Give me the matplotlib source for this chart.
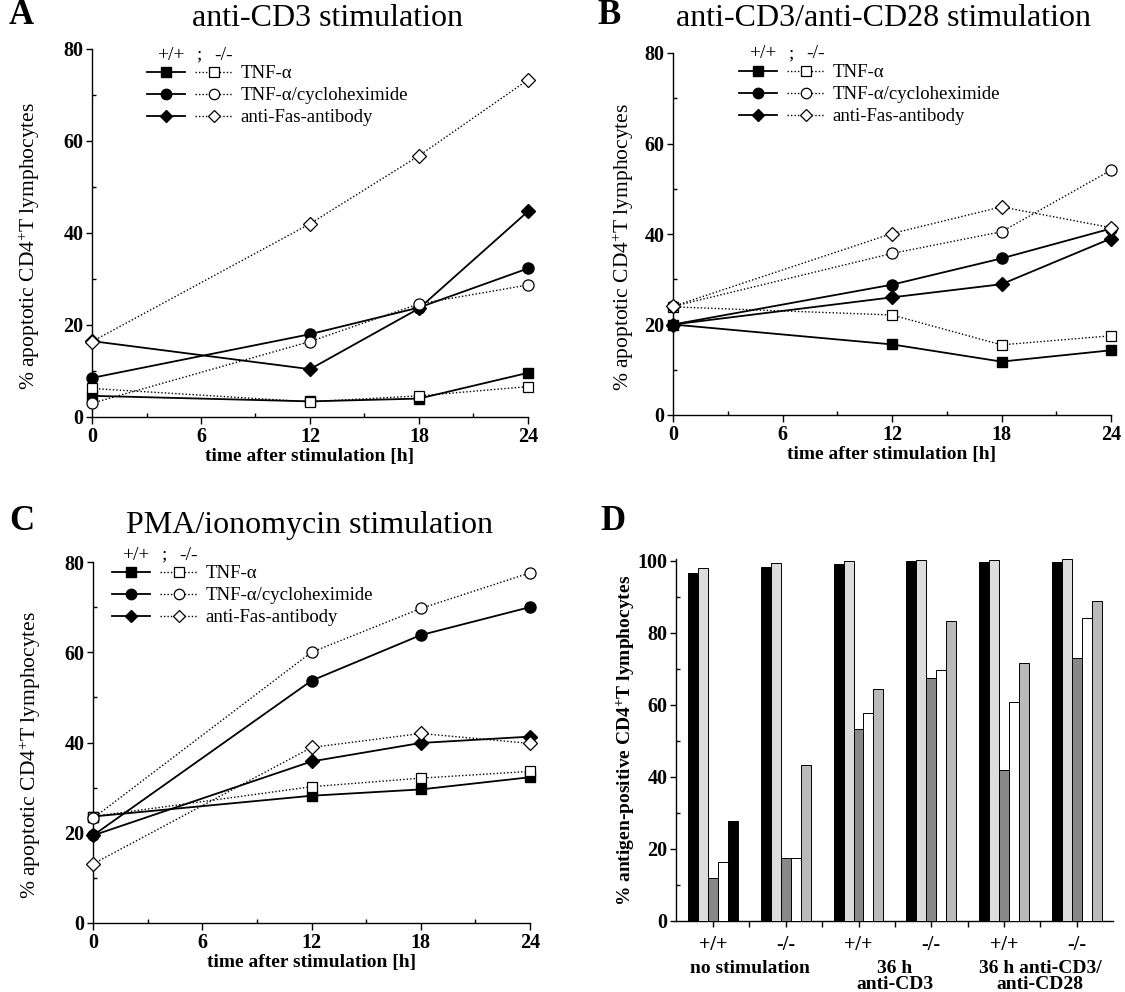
import matplotlib
matplotlib.use("Agg")
import matplotlib.pyplot as plt
from matplotlib.lines import Line2D
from matplotlib.legend_handler import HandlerTuple
from matplotlib.ticker import MultipleLocator, FixedLocator
import matplotlib.transforms as mtransforms
import numpy as np

plt.rcParams['font.family'] = ['Liberation Serif', 'DejaVu Serif']
plt.rcParams['mathtext.fontset'] = 'custom'
plt.rcParams['mathtext.rm'] = 'Liberation Serif'
plt.rcParams['mathtext.bf'] = 'Liberation Serif:bold'
plt.rcParams['mathtext.it'] = 'Liberation Serif:italic'

# ---------------- data ----------------
hours = [0, 12, 18, 24]
series_labels = ['TNF-α', 'TNF-α/cycloheximide', 'anti-Fas-antibody']

# Panel A: anti-CD3 stimulation
A_tnf_wt = [4.6, 3.4, 4.0, 9.6]
A_tnf_ko = [6.2, 3.3, 4.6, 6.6]
A_chx_wt = [8.5, 18.0, 23.8, 32.3]
A_chx_ko = [3.0, 16.4, 24.6, 28.7]
A_fas_wt = [16.5, 10.4, 23.6, 44.7]
A_fas_ko = [16.4, 42.0, 56.8, 73.3]

# Panel B: anti-CD3/anti-CD28 stimulation
B_tnf_wt = [20.0, 15.6, 11.8, 14.3]
B_tnf_ko = [23.9, 22.1, 15.5, 17.5]
B_chx_wt = [20.0, 28.8, 34.6, 41.2]
B_chx_ko = [24.0, 35.7, 40.5, 54.1]
B_fas_wt = [20.0, 26.0, 28.9, 39.0]
B_fas_ko = [24.0, 40.1, 46.0, 41.4]

# Panel C: PMA/ionomycin stimulation
C_tnf_wt = [23.6, 28.2, 29.6, 32.3]
C_tnf_ko = [23.6, 30.2, 32.1, 33.6]
C_chx_wt = [19.4, 53.7, 63.8, 70.0]
C_chx_ko = [23.2, 60.0, 69.7, 77.6]
C_fas_wt = [19.4, 35.8, 39.9, 41.3]
C_fas_ko = [13.1, 38.9, 42.0, 39.8]

# Panel D: antigen-positive CD4+ T lymphocytes
D_genotypes = ['+/+', '-/-', '+/+', '-/-', '+/+', '-/-']
D_conditions = ['no stimulation', '36 h\nanti-CD3', '36 h anti-CD3/\nanti-CD28']
D_bar1 = [96.7, 98.2, 99.2, 100.0, 99.7, 99.7]
D_bar2 = [98.1, 99.3, 100.0, 100.2, 100.3, 100.6]
D_bar3 = [11.8, 17.4, 53.3, 67.4, 41.8, 73.0]
D_bar4 = [16.4, 17.6, 57.8, 69.7, 60.9, 84.0]
D_bar5 = [27.8, 43.2, 64.4, 83.3, 71.6, 88.8]

# ---------------- figure ----------------
W, H = 1125, 992
fig = plt.figure(figsize=(W / 100, H / 100), dpi=100)


def fx(px):
    return px / W


def fy(py):
    return 1 - py / H


def axes_px(left, top, right, bottom):
    return fig.add_axes([fx(left), fy(bottom), (right - left) / W, (bottom - top) / H])


DOT = (0, (1, 1.5))
markers = ['s', 'o', 'D']
msizes = [7, 8, 7]


def style_line_axes(ax):
    for s in ['top', 'right']:
        ax.spines[s].set_visible(False)
    for s in ['left', 'bottom']:
        ax.spines[s].set_linewidth(1.0)
    ax.set_xlim(0, 24)
    ax.set_ylim(0, 80)
    ax.xaxis.set_major_locator(FixedLocator([0, 6, 12, 18, 24]))
    ax.xaxis.set_minor_locator(FixedLocator([3, 9, 15, 21]))
    ax.yaxis.set_major_locator(MultipleLocator(20))
    ax.yaxis.set_minor_locator(FixedLocator([10, 30, 50, 70]))
    ax.tick_params(axis='x', which='major', direction='out', length=5, width=1.0, pad=2)
    ax.tick_params(axis='x', which='minor', direction='in', length=3, width=1.0)
    ax.tick_params(axis='y', which='major', direction='out', length=4, width=1.0, pad=2)
    ax.tick_params(axis='y', which='minor', direction='in', length=3, width=1.0)
    for lab in ax.get_xticklabels() + ax.get_yticklabels():
        lab.set_fontsize(14.5)
        lab.set_fontweight('bold')
    ax.set_xlabel('time after stimulation [h]', fontsize=14, fontweight='bold', labelpad=1)


def line_panel(ax, wt_list, ko_list, leg_x, leg_y, ylabel_x):
    for i, (wt, ko) in enumerate(zip(wt_list, ko_list)):
        ax.plot(hours, wt, ls='-', color='black', lw=1.3, marker=markers[i], ms=msizes[i],
                mfc='black', mec='black', clip_on=False, zorder=3)
    for i, (wt, ko) in enumerate(zip(wt_list, ko_list)):
        ax.plot(hours, ko, ls=DOT, color='black', lw=1.0, marker=markers[i], ms=msizes[i],
                mfc='white', mec='black', mew=0.9, clip_on=False, zorder=4)
    style_line_axes(ax)
    ax.set_ylabel('% apoptotic CD4$^{+}$T lymphocytes', fontsize=15.5)
    ax.yaxis.set_label_coords(ylabel_x, 0.465)
    # legend
    handles = []
    for i in range(3):
        h1 = Line2D([], [], ls='-', color='black', lw=1.3, marker=markers[i], ms=msizes[i] - 0.5,
                    mfc='black', mec='black')
        h2 = Line2D([], [], ls=DOT, color='black', lw=1.0, marker=markers[i], ms=msizes[i] - 0.5,
                    mfc='white', mec='black', mew=0.9)
        handles.append((h1, h2))
    ax.legend(handles, series_labels, handler_map={tuple: HandlerTuple(ndivide=None, pad=0.55)},
              loc='upper left', bbox_to_anchor=(fx(leg_x), fy(leg_y)), bbox_transform=fig.transFigure,
              frameon=False, borderpad=0, borderaxespad=0, handlelength=4.6, handletextpad=0.4,
              labelspacing=0.26, fontsize=13.5, numpoints=1)
    fig.text(fx(leg_x + 24), fy(leg_y - 10), '+/+', ha='center', va='center', fontsize=14)
    fig.text(fx(leg_x + 52), fy(leg_y - 10), ';', ha='center', va='center', fontsize=14)
    fig.text(fx(leg_x + 77), fy(leg_y - 10), '-/-', ha='center', va='center', fontsize=14)


axA = axes_px(92, 49, 528, 417)
line_panel(axA, [A_tnf_wt, A_chx_wt, A_fas_wt], [A_tnf_ko, A_chx_ko, A_fas_ko], 147, 65, -0.115)

axB = axes_px(673, 53, 1111, 415)
line_panel(axB, [B_tnf_wt, B_chx_wt, B_fas_wt], [B_tnf_ko, B_chx_ko, B_fas_ko], 739, 64, -0.085)

axC = axes_px(93, 562, 530, 923)
line_panel(axC, [C_tnf_wt, C_chx_wt, C_fas_wt], [C_tnf_ko, C_chx_ko, C_fas_ko], 112, 565, -0.115)

# ---------------- panel D ----------------
axD = axes_px(676, 559, 1113, 921)
x = np.arange(len(D_genotypes))
bw = 0.137
bar_series = [D_bar1, D_bar2, D_bar3, D_bar4, D_bar5]
bar_colors = ['black', '#dcdcdc', '#888888', 'white', '#bababa']
fifth_colors = ['black', '#bababa', '#bababa', '#bababa', '#bababa', '#bababa']
for j, vals in enumerate(bar_series):
    cols = fifth_colors if j == 4 else [bar_colors[j]] * len(vals)
    axD.bar(x + (j - 2) * bw, vals, width=bw, color=cols, edgecolor='black', linewidth=0.7,
            clip_on=False, zorder=3)
axD.set_xlim(-0.51, 5.5)
axD.set_ylim(0, 100.5)
for s in ['top', 'right']:
    axD.spines[s].set_visible(False)
axD.spines['left'].set_linewidth(1.0)
axD.spines['bottom'].set_linewidth(1.0)
axD.yaxis.set_major_locator(MultipleLocator(20))
axD.yaxis.set_minor_locator(FixedLocator([10, 30, 50, 70, 90]))
axD.set_xticks(x)
axD.set_xticklabels(D_genotypes)
axD.xaxis.set_minor_locator(FixedLocator(x[:-1] + 0.5))
axD.tick_params(axis='x', which='both', direction='out', length=4, width=1.0, pad=6)
axD.tick_params(axis='y', which='major', direction='out', length=4, width=1.0, pad=2)
axD.tick_params(axis='y', which='minor', direction='in', length=3, width=1.0)
for lab in axD.get_xticklabels() + axD.get_yticklabels():
    lab.set_fontsize(14.5)
    lab.set_fontweight('bold')
axD.set_ylabel('% antigen-positive CD4$^{\\mathbf{+}}$T lymphocytes', fontsize=14, fontweight='bold')
axD.yaxis.set_label_coords(-0.09, 0.5)
trans = mtransforms.blended_transform_factory(axD.transData, axD.transAxes)
for k, cond in enumerate(D_conditions):
    axD.text(2 * k + 0.5, -0.108, cond, transform=trans, ha='center', va='top',
             fontsize=14, fontweight='bold', linespacing=0.95)

# ---------------- titles and panel letters ----------------
fig.text(fx(327), fy(18), 'anti-CD3 stimulation', ha='center', va='center', fontsize=23)
fig.text(fx(884), fy(18), 'anti-CD3/anti-CD28 stimulation', ha='center', va='center', fontsize=23)
fig.text(fx(309), fy(525), 'PMA/ionomycin stimulation', ha='center', va='center', fontsize=23)
fig.text(fx(9), fy(16), 'A', ha='left', va='center', fontsize=25, fontweight='bold')
fig.text(fx(597), fy(16), 'B', ha='left', va='center', fontsize=25, fontweight='bold')
fig.text(fx(9), fy(521), 'C', ha='left', va='center', fontsize=25, fontweight='bold')
fig.text(fx(600), fy(521), 'D', ha='left', va='center', fontsize=25, fontweight='bold')

fig.savefig('out.png', dpi=100, facecolor='white')
